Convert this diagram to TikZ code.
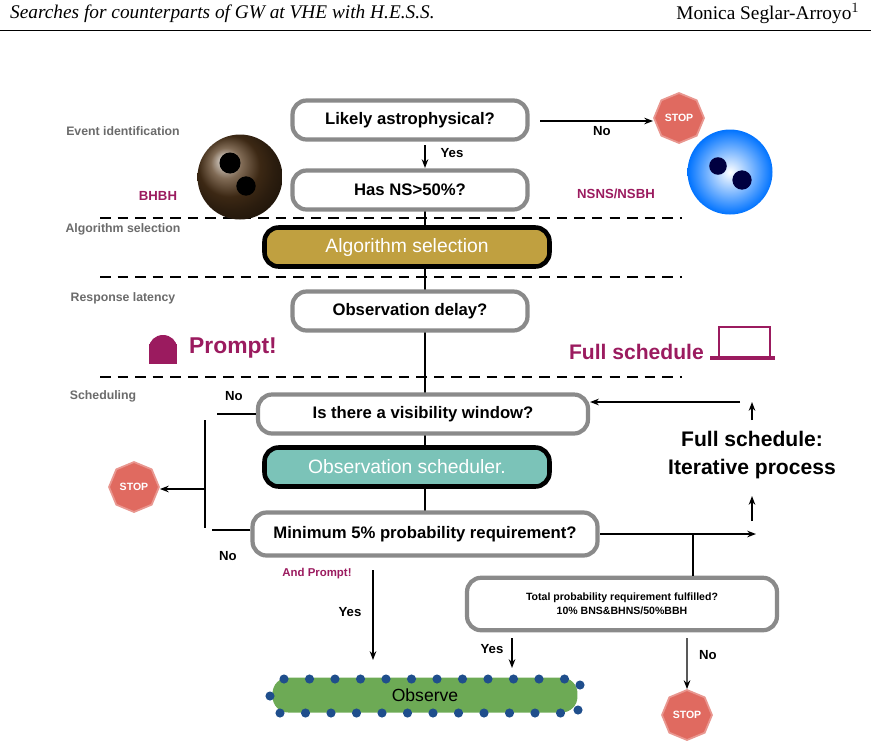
\documentclass[tikz,border=0pt]{standalone}
\usepackage{fontspec}
\setmainfont{Liberation Serif}
\newfontfamily\sansb{Liberation Sans}
\definecolor{flGray}{HTML}{8A8A8A}
\definecolor{flLabel}{HTML}{6B6B6B}
\definecolor{flMagenta}{HTML}{9B1B5F}
\definecolor{flGold}{HTML}{C0A040}
\definecolor{flTeal}{HTML}{7BC3B8}
\definecolor{flGreen}{HTML}{6DAA55}
\definecolor{flDot}{HTML}{1F4E8C}
\definecolor{flStop}{HTML}{E06A60}
\usetikzlibrary{positioning,arrows.meta,shapes.geometric}
\newcommand{\stopsign}[2]{%
  \node[stop] (#1) at #2 {STOP};}

\begin{document}
\begin{tikzpicture}[x=0.02cm,y=-0.02cm,
  query/.style={rounded corners=8pt, draw=flGray, line width=2.4pt, fill=white,
    minimum height=0.78cm, align=center, font=\sansb\bfseries\fontsize{9.5}{11}\selectfont},
  tool/.style={rounded corners=8pt, draw=black, line width=2.6pt,
    minimum width=5.7cm, minimum height=0.78cm, text=white, font=\sansb\fontsize{11}{13}\selectfont},
  stage/.style={text=flLabel, font=\sansb\bfseries\fontsize{7}{8}\selectfont},
  kind/.style={text=flMagenta, font=\sansb\bfseries\fontsize{7.5}{9}\selectfont},
  ans/.style={font=\sansb\bfseries\fontsize{7.5}{9}\selectfont},
  stop/.style={regular polygon, regular polygon sides=8, shape border rotate=22.5,
    fill=flStop, draw=flStop!70, line width=1pt, minimum size=1cm, inner sep=0pt,
    text=white, font=\sansb\bfseries\fontsize{6}{7}\selectfont},
  arr/.style={-{Stealth[length=5pt]}, thick},
  sep/.style={dashed, thick, dash pattern=on 6pt off 4pt}
]
  \useasboundingbox (0,0) rectangle (871,748);

  % header
  \node[anchor=west, font=\itshape\fontsize{11}{13}\selectfont] (title) at (4,14)
    {Searches for counterparts of GW at VHE with H.E.S.S.};
  \node[anchor=east, font=\fontsize{11}{13}\selectfont] (author) at (866,14)
    {Monica Seglar-Arroyo$^1$};
  \draw[thin] (0,30) -- (871,30);

  % separators
  \draw[sep] (100,218) -- (682,218);
  \draw[sep] (100,277) -- (682,277);
  \draw[sep] (100,377) -- (682,377);

  % stage labels
  \node[stage] (s1) at (123,131) {Event identification};
  \node[stage] (s2) at (123,229) {Algorithm selection};
  \node[stage] (s3) at (123,298) {Response latency};
  \node[stage] (s4) at (103,396) {Scheduling};

  % main spine
  \coordinate (spineTop) at (425,200);
  \coordinate (spineBot) at (425,520);
  \draw[thick] (spineTop) -- (spineBot);

  % boxes
  \node[query, minimum width=4.7cm] (astro) at (410,120) {Likely astrophysical?};
  \node[query, minimum width=4.7cm] (hasns) at (410,190) {Has NS>50\%?};
  \node[tool, fill=flGold] (algo) at (407,247) {Algorithm selection};
  \node[query, minimum width=4.7cm] (delay) at (410,311) {Observation delay?};
  \node[query, minimum width=6.6cm] (visib) at (423,414) {Is there a visibility window?};
  \node[tool, fill=flTeal] (sched) at (407,467) {Observation scheduler.};
  \node[query, minimum width=6.9cm, minimum height=0.86cm] (minprob) at (425,534)
    {Minimum 5\% probability requirement?};
  \node[query, minimum width=6.2cm, minimum height=1.05cm,
    font=\sansb\bfseries\fontsize{6}{8}\selectfont] (total) at (622,604)
    {Total probability requirement fulfilled?\\10\% BNS\&BHNS/50\%BBH};
  \node[rounded corners=9pt, fill=flGreen, minimum width=6.1cm, minimum height=0.7cm,
    font=\sansb\fontsize{10}{12}\selectfont] (observe) at (425,695) {Observe};
  \foreach \i in {0,...,11}
    \fill[flDot] (284+\i*25.5,679) circle (2.6pt) (280+\i*25.5,713) circle (2.6pt);
  \fill[flDot] (270,696) circle (2.6pt) (580,685) circle (2.6pt) (578,710) circle (2.6pt);

  % event identification
  \coordinate (yesTop) at (425,145);
  \coordinate (yesEnd) at (425,168);
  \draw[arr] (yesTop) -- (yesEnd);
  \node[ans] (yes1) at (452,153) {Yes};
  \stopsign{stop1}{(679,118)}
  \coordinate (noStart) at (540,121);
  \draw[arr] (noStart) -- (noStart -| stop1.west);
  \node[ans] (no1) at (602,131) {No};
  \node[circle, minimum size=1.7cm, inner sep=0pt, ball color=brown!45!black] (bhbh) at (240,177) {};
  \fill[black] (230,163) circle (6pt) (246,186) circle (5.5pt);
  \node[circle, minimum size=1.7cm, inner sep=0pt, inner color=white, outer color=blue!55!cyan] (nsns) at (730,172) {};
  \fill[blue!25!black] (718,166) circle (5pt) (742,180) circle (5.5pt);
  \node[kind] (kb) at (158,196) {BHBH};
  \node[kind] (kn) at (616,194) {NSNS/NSBH};

  % response latency
  \node[fill=flMagenta, minimum width=0.55cm, minimum height=0.4cm, inner sep=0pt] (dome) at (163,354) {};
  \fill[flMagenta] (149,348) arc (180:360:14 and 13);
  \node[text=flMagenta, font=\sansb\bfseries\fontsize{13}{15}\selectfont, anchor=west] (prompt) at (183,348) {Prompt!};
  \node[text=flMagenta, font=\sansb\bfseries\fontsize{12}{14}\selectfont, anchor=east] (fulls) at (710,352) {Full schedule};
  \draw[flMagenta, line width=1.5pt] (719,327) rectangle (770,357);
  \draw[flMagenta, line width=2pt] (710,358) -- (775,358);

  % scheduling: rejection branch
  \coordinate (nv) at (217,414);
  \coordinate (nm) at (212,530);
  \coordinate (nbar) at (205,489);
  \draw[thick] (visib.west) -- (nv);
  \draw[thick] (minprob.west) ++(0,-4) -- (nm);
  \draw[thick] (205,420) -- (205,528);
  \stopsign{stop2}{(134,487)}
  \draw[arr] (nbar) -- (nbar -| stop2.east);
  \node[ans] (no2) at (234,396) {No};
  \node[ans] (no3) at (228,556) {No};

  % full schedule loop
  \coordinate (loopA) at (600,534);
  \coordinate (loopB) at (756,534);
  \coordinate (junc) at (693,534);
  \coordinate (upA) at (752,521);
  \coordinate (upB) at (752,496);
  \coordinate (upC) at (752,420);
  \coordinate (upD) at (752,402);
  \coordinate (back) at (740,402);
  \draw[arr] (loopA) -- (loopB);
  \draw[arr] (upA) -- (upB);
  \draw[arr] (upC) -- (upD);
  \draw[arr] (back) -- (back -| visib.east);
  \node[font=\sansb\bfseries\fontsize{12}{16}\selectfont, align=center] (iter) at (752,455)
    {Full schedule:\\Iterative process};
  \draw[thick] (junc) -- (junc |- total.north);

  % outcomes
  \node[kind, font=\sansb\bfseries\fontsize{6.5}{8}\selectfont] (andp) at (317,574) {And Prompt!};
  \coordinate (yp) at (373,570);
  \coordinate (ypEnd) at (373,660);
  \draw[arr] (yp) -- (ypEnd);
  \node[ans] (yes2) at (350,612) {Yes};
  \coordinate (ty) at (512,638);
  \coordinate (tyEnd) at (512,668);
  \draw[arr] (ty) -- (tyEnd);
  \node[ans] (yes3) at (492,649) {Yes};
  \stopsign{stop3}{(687,715)}
  \coordinate (tn) at (687,638);
  \draw[arr] (tn) -- (stop3);
  \node[ans] (no4) at (708,655) {No};
\end{tikzpicture}
\end{document}
